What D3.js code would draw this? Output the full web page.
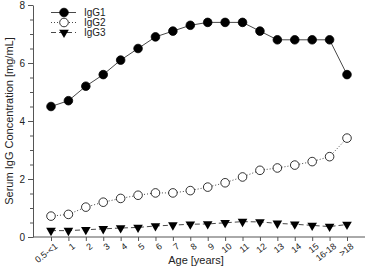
<!DOCTYPE html>
<html>
<head>
<meta charset="utf-8">
<script src="https://cdn.jsdelivr.net/npm/d3@7"></script>
<style>
  body { margin: 0; background: #fff; }
  text { font-family: Arial, "Liberation Sans", sans-serif; fill: #222; }
</style>
</head>
<body>
<div id="chart"></div>
<script>
// data
const ages = ["0.5-<1","1","2","3","4","5","6","7","8","9","10","11","12","13","14","15","16-18",">18"];
const igg1 = [4.5,4.7,5.2,5.6,6.1,6.5,6.9,7.1,7.3,7.4,7.4,7.4,7.1,6.8,6.8,6.8,6.8,5.6];
const igg2 = [0.72,0.78,1.03,1.2,1.33,1.44,1.52,1.52,1.6,1.72,1.87,2.07,2.3,2.38,2.48,2.6,2.77,3.41];
const igg3 = [0.22,0.22,0.25,0.28,0.31,0.33,0.38,0.41,0.44,0.45,0.49,0.53,0.52,0.47,0.44,0.4,0.36,0.43];
const yTicks = [0,2,4,6,8];

const W = 367, H = 270;
const svg = d3.select("#chart").append("svg")
  .attr("width", W).attr("height", H);

// scales
const x = d3.scalePoint().domain(ages).range([51, 347]);
const y = d3.scaleLinear().domain([0, 8]).range([237, 5]);

// axes
const axisColor = "#555";

const yMinor = svg.append("g")
  .attr("transform", "translate(33,0)")
  .call(d3.axisLeft(y).tickValues(d3.range(0, 8.01, 0.5)).tickSize(3).tickFormat(""));
yMinor.select(".domain").remove();
yMinor.selectAll("line").attr("stroke", axisColor);

const yAxis = svg.append("g")
  .attr("transform", "translate(33,0)")
  .call(d3.axisLeft(y).tickValues(yTicks).tickSize(5).tickSizeOuter(0).tickPadding(3));
yAxis.select(".domain").attr("stroke", axisColor);
yAxis.selectAll("line").attr("stroke", axisColor);
yAxis.selectAll("text").style("font-size", "10px");

const xAxis = svg.append("g")
  .attr("transform", "translate(0,237)")
  .call(d3.axisBottom(x).tickSize(4).tickSizeOuter(0));
xAxis.select(".domain").attr("d", "M33,0H365").attr("stroke", axisColor);
xAxis.selectAll("line").attr("stroke", axisColor);
xAxis.selectAll("text")
  .style("font-size", "9px")
  .attr("text-anchor", "end")
  .attr("dx", "0.1em")
  .attr("dy", "0.6em")
  .attr("transform", "rotate(-38) translate(-2,0)");

// lines
const series = [
  { name: "IgG1", values: igg1, dash: null, marker: "filled" },
  { name: "IgG2", values: igg2, dash: "1,2", marker: "open" },
  { name: "IgG3", values: igg3, dash: "5,3", marker: "tri" }
];

const line = d3.line().x((d, i) => x(ages[i])).y(d => y(d));
const tri = d3.symbol().type(d3.symbolTriangle).size(40);

function drawMarker(g, kind, cx, cy) {
  if (kind === "tri") {
    g.append("path").attr("d", tri())
      .attr("transform", `translate(${cx},${cy}) rotate(180)`)
      .attr("fill", "#000");
  } else {
    g.append("circle").attr("cx", cx).attr("cy", cy).attr("r", 4.3)
      .attr("fill", kind === "filled" ? "#000" : "#fff")
      .attr("stroke", "#000").attr("stroke-width", 0.8);
  }
}

series.forEach(s => {
  svg.append("path")
    .datum(s.values)
    .attr("fill", "none")
    .attr("stroke", "#333")
    .attr("stroke-width", 0.9)
    .attr("stroke-dasharray", s.dash)
    .attr("d", line);
  const g = svg.append("g");
  s.values.forEach((v, i) => drawMarker(g, s.marker, x(ages[i]), y(v)));
});

// legend
const leg = svg.append("g");
series.forEach((s, i) => {
  const ly = 12.5 + i * 10;
  leg.append("line")
    .attr("x1", 51).attr("x2", 76).attr("y1", ly).attr("y2", ly)
    .attr("stroke", "#333").attr("stroke-width", 0.9)
    .attr("stroke-dasharray", s.dash);
  drawMarker(leg, s.marker, 64, ly);
  leg.append("text")
    .attr("x", 84).attr("y", ly + 3.5)
    .style("font-size", "10px")
    .text(s.name);
});

// labels
svg.append("text")
  .attr("transform", "rotate(-90)")
  .attr("x", -121).attr("y", 13)
  .attr("text-anchor", "middle")
  .style("font-size", "11px")
  .text("Serum IgG Concentration [mg/mL]");

svg.append("text")
  .attr("x", 196).attr("y", 264)
  .attr("text-anchor", "middle")
  .style("font-size", "11px")
  .text("Age [years]");
</script>
</body>
</html>
